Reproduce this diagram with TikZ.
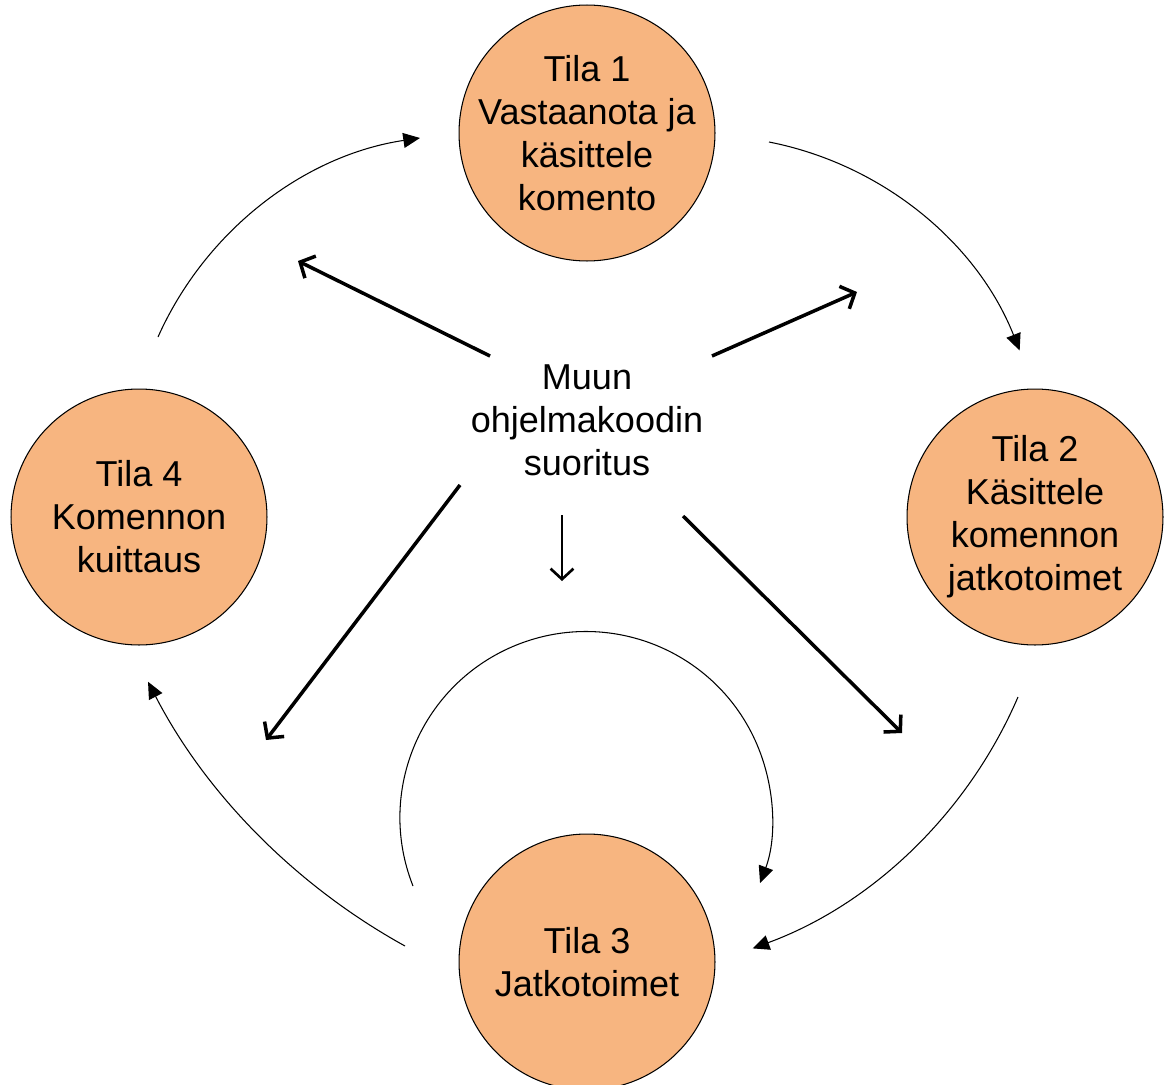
\documentclass[tikz,border=0pt]{standalone}
\usepackage{fontspec}
\setmainfont{Liberation Sans}
\usetikzlibrary{arrows.meta}
\definecolor{peach}{RGB}{247,181,128}
\begin{document}
\begin{tikzpicture}[x=0.02cm,y=-0.02cm,
  centertext/.style={align=center,font=\fontsize{20.5}{24.5}\selectfont},
  state/.style={circle,draw=black,line width=0.6pt,fill=peach,minimum size=5.12cm,
    inner sep=0pt,label={[centertext]center:#1}},
  flow/.style={line width=0.6pt,-{Triangle[length=9.5pt,width=8.5pt]}},
  jump/.style={line width=2pt,-{Straight Barb[length=6.5pt,width=14pt]}},
  smalljump/.style={line width=1.5pt,-{Straight Barb[length=6pt,width=13pt]}}]
\useasboundingbox (0,0) rectangle (1167,1085);
\clip (0,0) rectangle (1167,1085);

% states (text set as a centred label so the circle keeps its size)
\node[state={Tila 1\\Vastaanota ja\\käsittele\\komento}] (s1) at (587,133) {};
\node[state={Tila 2\\Käsittele\\komennon\\jatkotoimet}] (s2) at (1035,517) {};
\node[state={Tila 3\\Jatkotoimet}] (s3) at (587,962) {};
\node[state={Tila 4\\Komennon\\kuittaus}] (s4) at (139,517) {};

\node[centertext] (main) at (587,420) {Muun\\ohjelmakoodin\\suoritus};

% outer cycle
\coordinate (a1) at (158,337);
\coordinate (b1) at (769,142);
\coordinate (c1) at (1018,697);
\coordinate (d1) at (405,946);
\coordinate (e1) at (413,886);
\draw[flow] (a1) arc[start angle=-155.95,end angle=-98.5,radius=342.3];
\draw[flow] (b1) arc[start angle=-78.9,end angle=-21.6,radius=340];
\draw[flow] (c1) arc[start angle=23.3,end angle=69.8,radius=463];
\draw[flow] (d1) arc[start angle=118.9,end angle=152.7,radius=634];
% loop back into state 3
\draw[flow] (e1) arc[start angle=158.4,end angle=380.6,radius=186];

% jumps from the main code
\coordinate (m1) at (490,356);
\coordinate (t1) at (298,261);
\coordinate (m2) at (712,356);
\coordinate (t2) at (857,292);
\coordinate (m3) at (460,485);
\coordinate (t3) at (266,740);
\coordinate (m4) at (562,515);
\coordinate (t4) at (562,581);
\coordinate (m5) at (683,516);
\coordinate (t5) at (902,733);
\draw[jump] (m1) -- (t1);
\draw[jump] (m2) -- (t2);
\draw[jump] (m3) -- (t3);
\draw[smalljump] (m4) -- (t4);
\draw[jump] (m5) -- (t5);
\end{tikzpicture}
\end{document}
